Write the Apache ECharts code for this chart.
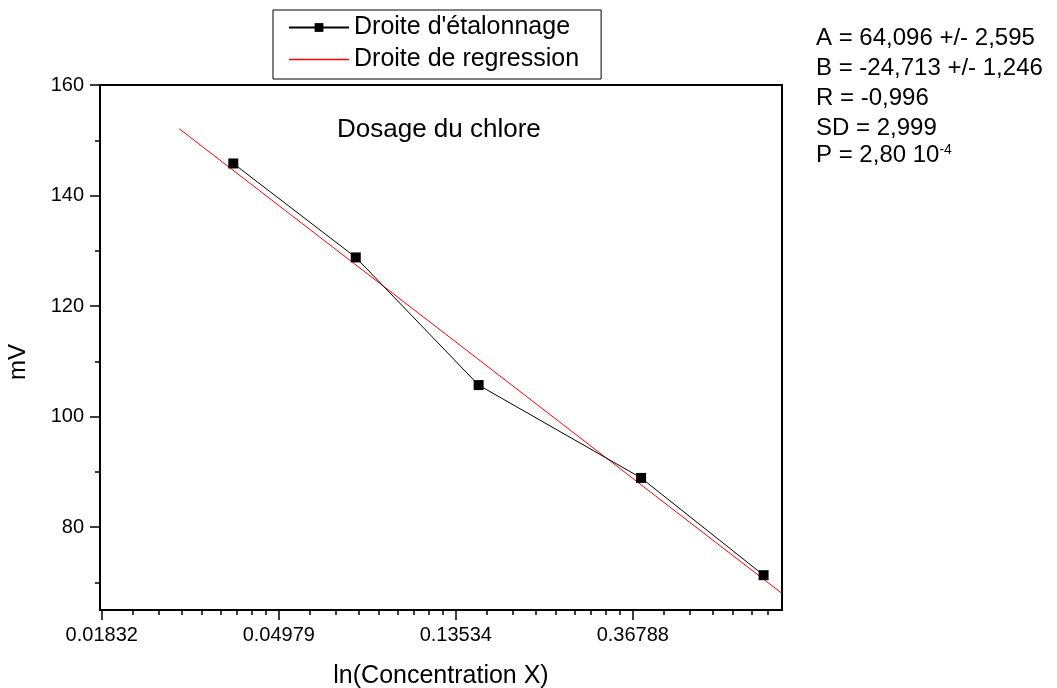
<!DOCTYPE html>
<html>
<head>
<meta charset="utf-8">
<script src="https://cdn.jsdelivr.net/npm/echarts@6/dist/echarts.min.js"></script>
<style>
html,body{margin:0;padding:0;background:#fff;}
#chart{width:1057px;height:688px;}
</style>
</head>
<body>
<div id="chart"></div>
<script>
// ---- data ----
const lnConc = [-3.257, -2.565, -1.871, -0.953, -0.261];   // ln(Concentration X)
const mV = [145.8, 128.8, 105.7, 88.9, 71.3];
const regLn = [-3.563, -0.157];                              // regression line ends
const regMV = [152.1, 68.0];
const xMajorTicks = [-4, -3, -2, -1];
const yMajorTicks = [80, 100, 120, 140, 160];
const yMinorTicks = [70, 90, 110, 130, 150];
const seriesNames = ["Droite d'étalonnage", "Droite de regression"];
const titleText = "Dosage du chlore";
const yTitle = "mV";
const xTitle = "ln(Concentration X)";
const statsLines = ["A = 64,096 +/- 2,595", "B = -24,713 +/- 1,246", "R = -0,996", "SD = 2,999"];
const pLine = ["P = 2,80 10", "-4"];

// minor ticks: linear steps between e^n and e^(n+1), shown on the ln axis
const xMin = -4.01, xMax = -0.157;
const xMinorTicks = [];
for (const n of [-5, -4, -3, -2, -1]) {
  const a = Math.exp(n), b = Math.exp(n + 1);
  for (let k = 1; k <= 8; k++) {
    const v = Math.log(a + k * (b - a) / 9);
    if (v > xMin && v < xMax) xMinorTicks.push(v);
  }
}

const FONT = '"Liberation Sans", Arial, sans-serif';
const chart = echarts.init(document.getElementById('chart'));

const axisLineStyle = {color: '#000', width: 2};
chart.setOption({
  animation: false,
  backgroundColor: '#fff',
  textStyle: {fontFamily: FONT, color: '#000'},
  grid: {left: 100, right: 275, top: 85, bottom: 78, show: true, borderColor: '#000', borderWidth: 2,
    outerBoundsMode: 'none', containLabel: false},
  legend: {
    orient: 'vertical', left: 273, top: 10,
    padding: [5, 22, 7, 15],
    itemGap: 7, itemWidth: 60, itemHeight: 11,
    borderColor: '#000', borderWidth: 1,
    textStyle: {fontFamily: FONT, fontSize: 25, lineHeight: 24, color: '#000'},
    data: [
      {name: seriesNames[0]},
      {name: seriesNames[1], icon: 'path://M0 0H60V1.3H0Z'}
    ]
  },
  xAxis: [{
    type: 'value', position: 'bottom', min: xMin, max: xMax,
    name: xTitle, nameLocation: 'middle', nameGap: 54,
    nameTextStyle: {fontFamily: FONT, fontSize: 25, color: '#000'},
    axisLine: {show: true, lineStyle: axisLineStyle},
    axisTick: {show: true, length: 10, customValues: xMajorTicks, lineStyle: {color: '#000', width: 1.5}},
    axisLabel: {customValues: xMajorTicks, margin: 15, fontSize: 20, color: '#000', fontFamily: FONT,
      formatter: v => Math.exp(v).toFixed(5)},
    splitLine: {show: false}
  }, {
    type: 'value', position: 'bottom', min: xMin, max: xMax,
    axisLine: {show: false},
    axisTick: {show: true, length: 5, customValues: xMinorTicks, lineStyle: {color: '#000', width: 1.5}},
    axisLabel: {show: false},
    splitLine: {show: false}
  }],
  yAxis: [{
    type: 'value', position: 'left', min: 65, max: 160,
    axisLine: {show: true, lineStyle: axisLineStyle},
    axisTick: {show: true, length: 10, customValues: yMajorTicks, lineStyle: {color: '#000', width: 1.5}},
    axisLabel: {customValues: yMajorTicks, margin: 16, fontSize: 20, color: '#000', fontFamily: FONT},
    splitLine: {show: false}
  }, {
    type: 'value', position: 'left', min: 65, max: 160,
    axisLine: {show: false},
    axisTick: {show: true, length: 5, customValues: yMinorTicks, lineStyle: {color: '#000', width: 1.5}},
    axisLabel: {show: false},
    splitLine: {show: false}
  }],
  series: [{
    name: seriesNames[0], type: 'line', xAxisIndex: 0, yAxisIndex: 0,
    data: lnConc.map((x, i) => [x, mV[i]]),
    symbol: 'rect', symbolSize: 10, showSymbol: true,
    lineStyle: {color: '#000', width: 1}, itemStyle: {color: '#000'},
    z: 3
  }, {
    name: seriesNames[1], type: 'line', xAxisIndex: 0, yAxisIndex: 0,
    data: regLn.map((x, i) => [x, regMV[i]]),
    symbol: 'none', clip: true,
    lineStyle: {color: '#ff0000', width: 1}, itemStyle: {color: '#ff0000'},
    z: 2
  }],
  graphic: [
    {type: 'text', left: 337, top: 117, style: {text: titleText, fontFamily: FONT, fontSize: 26, fill: '#000'}},
    {type: 'text', x: 18, y: 362, rotation: Math.PI / 2,
      style: {text: yTitle, fontFamily: FONT, fontSize: 24, fill: '#000', align: 'center', verticalAlign: 'middle'}},
    ...statsLines.map((t, i) => ({type: 'text', left: 816, top: 26 + i * 30,
      style: {text: t, fontFamily: FONT, fontSize: 24, fill: '#000'}})),
    {type: 'text', left: 816, top: 143,
      style: {text: pLine[0] + '{sup|' + pLine[1] + '}', fontFamily: FONT, fontSize: 24, fill: '#000',
        rich: {sup: {fontSize: 14, verticalAlign: 'top', fontFamily: FONT, fill: '#000'}}}}
  ]
});
</script>
</body>
</html>
